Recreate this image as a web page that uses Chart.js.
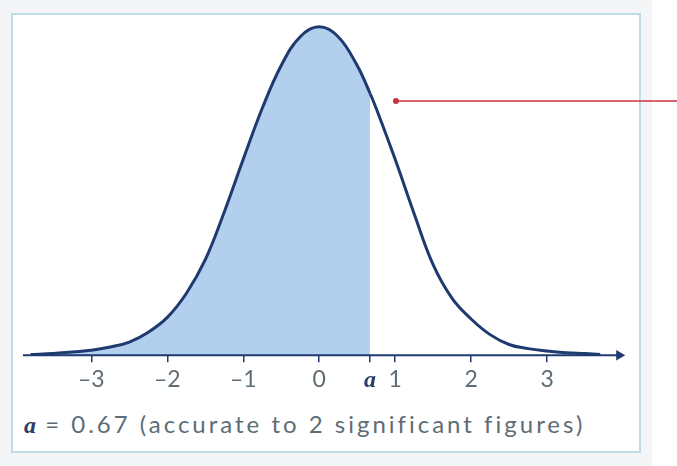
<!DOCTYPE html>
<html>
<head>
<meta charset="utf-8">
<script src="https://cdn.jsdelivr.net/npm/chart.js@4.4.1/dist/chart.umd.min.js"></script>
<style>
    html, body { margin: 0; padding: 0; background: #ffffff; }
    .page { position: relative; width: 677px; height: 466px; overflow: hidden; }
    .shade { position: absolute; left: 0; top: 0; width: 652px; height: 466px; background: #f3f5f6; }
    .frame { position: absolute; left: 11px; top: 13px; width: 626px; height: 436px; border: 2px solid #bddde6; background: #ffffff; }
    .caption { position: absolute; left: 24px; top: 409px; font-family: "Lato", sans-serif; font-size: 24px; color: #5e6c76; letter-spacing: 3px; white-space: nowrap; }
    .caption i { font-family: "Liberation Serif", serif; font-weight: bold; color: #2a3d6b; letter-spacing: 0; }
    .chart-box { position: absolute; left: 0; top: 0; width: 677px; height: 466px; }
</style>
</head>
<body>
<div class="page">
    <div class="shade"></div>
    <div class="frame"></div>
    <div class="caption"><i>a</i> = 0.67 (accurate to 2 significant figures)</div>
    <div class="chart-box"><canvas id="normalChart"></canvas></div>
</div>
<script>
const colors = {
    curve: "#1f3a6f",
    fill: "#b3cfee",
    red: "#c8323c",
    label: "#5e6c76",
};

// z values along the curve and the heights
const curveX = [-3.8, -3.5, -3.25, -3.0, -2.75, -2.5, -2.25, -2.0, -1.75, -1.5, -1.25, -1.0, -0.75, -0.5, -0.25, 0, 0.25, 0.5, 0.67, 0.75, 1.0, 1.25, 1.5, 1.75, 2.0, 2.25, 2.5, 2.75, 3.0, 3.25, 3.5, 3.7];
const curveY = [0.001, 0.002, 0.004, 0.006, 0.010, 0.016, 0.028, 0.046, 0.075, 0.116, 0.174, 0.238, 0.300, 0.352, 0.387, 0.399, 0.387, 0.352, 0.318, 0.300, 0.238, 0.172, 0.110, 0.069, 0.044, 0.025, 0.013, 0.008, 0.005, 0.003, 0.002, 0.001];

const aValue = 0.67;
const tickValues = [-3, -2, -1, 0, aValue, 1, 2, 3];
const tickLabels = ["–3", "–2", "–1", "0", "a", "1", "2", "3"];

const axisX = [-3.9, 3.95];
const pointerX = [1.01, 4.8];
const pointerY = 0.309;

const curvePoints = curveX.map((x, i) => ({ x: x, y: curveY[i] }));

new Chart(document.getElementById("normalChart"), {
    type: "line",
    data: {
        datasets: [
            {
                label: "pointer",
                data: pointerX.map((x) => ({ x: x, y: pointerY })),
                borderColor: colors.red,
                borderWidth: 1.5,
                pointRadius: [3, 0],
                pointBackgroundColor: colors.red,
                pointBorderWidth: 0,
                clip: false,
            },
            {
                label: "axis",
                data: axisX.map((x) => ({ x: x, y: 0 })),
                borderColor: colors.curve,
                borderWidth: 2,
                pointRadius: [0, 6],
                pointStyle: "triangle",
                rotation: 90,
                pointBackgroundColor: colors.curve,
                pointBorderWidth: 0,
                clip: false,
            },
            {
                label: "N(0,1)",
                data: curvePoints,
                borderColor: colors.curve,
                borderWidth: 3,
                pointRadius: 0,
                tension: 0.4,
                fill: "origin",
                backgroundColor: colors.fill,
                segment: {
                    backgroundColor: (ctx) => (ctx.p1.parsed.x <= aValue + 1e-9 ? colors.fill : "rgba(0,0,0,0)"),
                },
                clip: false,
            },
        ],
    },
    options: {
        responsive: true,
        maintainAspectRatio: false,
        animation: false,
        layout: { padding: { left: 23, right: 54, top: 26, bottom: 67 } },
        plugins: {
            legend: { display: false },
            tooltip: { enabled: false },
        },
        scales: {
            x: {
                type: "linear",
                min: -3.9,
                max: 4.0,
                afterBuildTicks: (scale) => {
                    scale.ticks = tickValues.map((v) => ({ value: v }));
                },
                grid: {
                    drawOnChartArea: false,
                    drawTicks: true,
                    tickLength: 7,
                    color: colors.curve,
                    lineWidth: 1.5,
                },
                border: { display: false },
                ticks: {
                    padding: 4,
                    autoSkip: false,
                    maxRotation: 0,
                    callback: (value) => tickLabels[tickValues.indexOf(value)],
                    color: (ctx) => (ctx.tick && ctx.tick.value === aValue ? "#2a3d6b" : colors.label),
                    font: (ctx) => (ctx.tick && ctx.tick.value === aValue
                        ? { family: "Liberation Serif", size: 24, style: "italic", weight: "bold" }
                        : { family: "Lato", size: 23 }),
                },
            },
            y: {
                display: false,
                min: 0,
                max: 0.4,
            },
        },
    },
});
</script>
</body>
</html>
